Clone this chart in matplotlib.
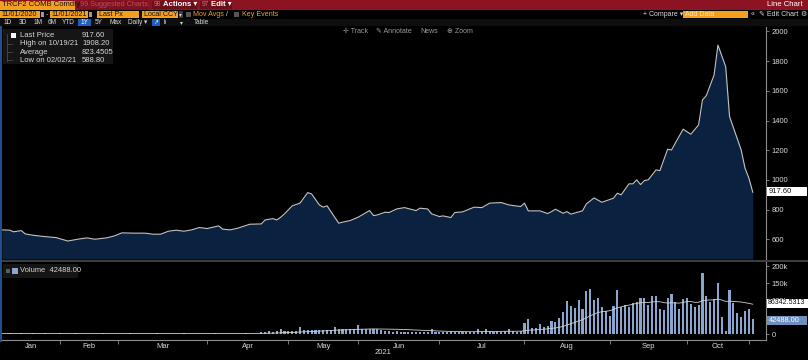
import numpy as np
import pandas as pd
import matplotlib
matplotlib.use("Agg")
import matplotlib.pyplot as plt
from matplotlib.patches import Rectangle

plt.rcParams['font.family'] = ['Liberation Sans', 'DejaVu Sans']

# price series (trading-day index, last price)
price_day = [0, 2, 3, 5, 6, 8, 11, 14, 17, 20, 22, 24, 27, 29, 31, 34, 37, 39, 41, 43,
             45, 47, 49, 51, 53, 56, 57, 59, 61, 64, 67, 68, 70, 71, 72, 73, 75, 77, 79, 80,
             82, 83, 84, 87, 88, 90, 92, 95, 96, 97, 99, 100, 102, 104, 107, 108, 110, 111, 113, 114,
             116, 117, 119, 122, 124, 126, 129, 131, 134, 135, 136, 139, 141, 142, 143, 145, 146, 147, 149, 150,
             151, 153, 155, 158, 159, 160, 162, 163, 164, 165, 166, 167, 169, 170, 172, 173, 176, 178, 180, 181,
             182, 184, 185, 187, 188, 191, 192, 193, 194]
price = [664, 662, 651, 659, 637, 628, 619, 612, 589, 603, 610, 601, 610, 623, 644, 642, 642, 635, 635, 655,
         662, 655, 664, 680, 673, 691, 669, 664, 676, 702, 704, 731, 740, 731, 749, 772, 826, 844, 915, 906,
         832, 817, 826, 709, 716, 727, 749, 794, 760, 765, 783, 781, 805, 814, 794, 810, 805, 772, 754, 758,
         747, 781, 785, 817, 814, 844, 848, 832, 821, 844, 792, 792, 774, 787, 803, 776, 787, 770, 785, 792,
         839, 879, 850, 877, 911, 900, 974, 974, 1001, 969, 996, 1001, 1068, 1063, 1207, 1202, 1342, 1308, 1371, 1539,
         1568, 1707, 1908.2, 1763, 1427, 1202, 1079, 1012, 917.6]

# daily volume in thousands, one value per trading day 0..194
volume_k = (
    [1.5, 1.4, 1.6, 1.5, 1.3, 1.6, 1.4, 1.5, 1.7, 1.4, 1.5, 1.6, 1.3, 1.5, 1.4, 1.6]
    + [1.2, 1.0, 1.4, 3.5, 1.1, 1.3, 1.2, 1.0, 1.5, 1.2, 3.0, 1.1, 1.3, 1.0, 1.2, 1.4, 1.1,
       3.2, 1.2, 1.0, 1.3, 1.5, 1.2, 1.1, 3.0, 1.3, 1.0, 1.2, 1.4, 1.1, 1.2, 2.8, 1.0, 1.3,
       1.2, 1.1, 1.5, 1.2, 1.0, 3.1, 1.3, 1.2, 1.1, 1.4, 1.0, 1.2, 1.3, 3.3, 1.1, 1.2, 1.5]
    + [6, 7, 8, 7, 9, 14, 8, 9, 8, 10, 20, 12, 11, 12, 13, 11, 12, 13, 12, 22, 15, 16, 14,
       15, 16, 26, 15, 14, 16, 15, 14, 12, 8]
    + [8, 7, 8, 6, 6, 5, 6, 6, 5, 6, 7, 15, 6, 5, 6, 7, 10, 6, 5, 6, 7, 6, 6, 14, 7, 14,
       8, 7, 8, 7, 8, 14, 8, 7, 9]
    + [33, 43, 17, 17, 28, 22, 25, 38, 36, 46, 66, 97, 82, 77, 100, 74, 126, 132, 100, 105,
       80, 68, 53, 82, 129, 80, 85, 80, 90, 95, 105, 107, 85, 113, 113, 73, 71, 105, 117, 95,
       73, 103, 105, 88, 80, 86, 178, 113, 95, 103, 149, 51, 8, 129, 90, 63, 51, 68, 75, 44]
)

month_names = ['Jan', 'Feb', 'Mar', 'Apr', 'May', 'Jun', 'Jul', 'Aug', 'Sep', 'Oct']
month_bounds = [0, 15, 30, 53, 74, 92, 113, 135, 157, 177, 193]

price_ticks = [600, 800, 1000, 1200, 1400, 1600, 1800, 2000]
vol_ticks = [0, 50000, 100000, 150000, 200000]
# 50k sits under the volume flag in the original, so it is left blank
vol_tick_labels = ['0', '', '100k', '150k', '200k']

assert len(price_day) == len(price)

vol = np.array(volume_k) * 1000
vol_days = np.arange(len(vol))
vol_ma = pd.Series(vol).rolling(20, min_periods=1).mean()

BG = '#000000'
NAVY = '#0b2140'
LINE = '#c4c4c4'
BAR = '#8aa6cf'
GRAY = '#8c8c8c'
TXT = '#d8d8d8'
ORANGE = '#f2a01e'
RED = '#8c1422'

W, H = 808, 360
fig = plt.figure(figsize=(W / 100, H / 100), dpi=100, facecolor=BG)

px_per_day = 3.87
x_right = 766


def frac(x0, y0, x1, y1):
    return [x0 / W, 1 - y1 / H, (x1 - x0) / W, (y1 - y0) / H]


# price panel
ax = fig.add_axes(frac(2, 27, x_right, 259))
ax.set_facecolor(BG)
y_top, y_bot = 2030, 468
ax.fill_between(price_day, price, y_bot, color=NAVY, lw=0)
ax.plot(price_day, price, color=LINE, lw=0.8)
ax.set_xlim(0, (x_right - 2) / px_per_day)
ax.set_ylim(y_bot, y_top)
ax.yaxis.tick_right()
ax.set_yticks(price_ticks)
ax.set_yticklabels([str(t) for t in price_ticks])
ax.tick_params(axis='y', colors=GRAY, labelcolor=TXT, labelsize=5.5, length=2.5, width=0.6, pad=1.5)
ax.set_xticks([])
for s in ['top', 'left', 'bottom']:
    ax.spines[s].set_visible(False)
ax.spines['right'].set_color(GRAY)
ax.spines['right'].set_linewidth(0.8)

# volume panel
av = fig.add_axes(frac(2, 262, x_right, 340))
av.set_facecolor(BG)
av.bar(vol_days, vol, width=0.55, color=BAR, lw=0)
av.plot(vol_days, vol_ma, color='#d0d0d0', lw=0.6)
av.set_xlim(0, (x_right - 2) / px_per_day)
av.set_ylim(-17600, 211800)
av.yaxis.tick_right()
av.set_yticks(vol_ticks)
av.set_yticklabels(vol_tick_labels)
av.tick_params(axis='y', colors=GRAY, labelcolor=TXT, labelsize=5.5, length=2.5, width=0.6, pad=1.5)
av.set_xticks(month_bounds[1:])
av.set_xticklabels([])
mids = [(a + b) / 2 for a, b in zip(month_bounds[:-1], month_bounds[1:])]
av.set_xticks(mids, minor=True)
av.set_xticklabels(month_names, minor=True)
av.tick_params(axis='x', which='major', colors=GRAY, length=3, width=0.6)
av.tick_params(axis='x', which='minor', length=0, labelcolor=TXT, labelsize=5.5, pad=2)
for s in ['top', 'left']:
    av.spines[s].set_visible(False)
for s in ['right', 'bottom']:
    av.spines[s].set_color(GRAY)
    av.spines[s].set_linewidth(0.8)

# overlay for header, legends and value flags
ov = fig.add_axes([0, 0, 1, 1], zorder=10)
ov.set_xlim(0, W)
ov.set_ylim(H, 0)
ov.axis('off')
ov.patch.set_alpha(0)


def box(x, y, w, h, fc, ec='none', lw=0.5):
    ov.add_patch(Rectangle((x, y), w, h, facecolor=fc, edgecolor=ec, lw=lw))


def txt(x, y, s, size=5, color=TXT, **kw):
    ov.text(x, y, s, fontsize=size, color=color, va='center', **kw)


# title bar
box(0, 0, W, 9.5, RED)
box(0, 0.5, 75, 9, ORANGE)
txt(1.5, 5, 'TRCF2 COMB Comdty', size=5.5, color='#111111')
box(78, 0.8, 69, 8.4, '#7e1220', ec='#6a0e1a')
txt(80, 5, '99 Suggested Charts', size=5.2, color='#b8505e')
box(152, 0.8, 45, 8.4, '#6c0f1b')
txt(154, 5, '98', size=4.8, color='#c07080')
txt(163, 5, 'Actions \u25be', size=5.6, color='white', fontweight='bold')
box(200, 0.8, 32, 8.4, '#6c0f1b')
txt(202, 5, '97', size=4.8, color='#c07080')
txt(211, 5, 'Edit \u25be', size=5.6, color='white', fontweight='bold')
txt(803, 5, 'Line Chart', size=5.6, color='white', ha='right')

# second row
box(0, 10.5, 40, 7.5, ORANGE)
txt(1.5, 14.3, '11/01/2020', size=5.1, color='#111111')
box(40.5, 11.5, 3.5, 5.5, '#9a9a9a')
txt(46, 14.3, '-', size=5, color=TXT)
box(50, 10.5, 38, 7.5, ORANGE)
txt(51.5, 14.3, '11/01/2021', size=5.1, color='#111111')
box(88.5, 11.5, 3.5, 5.5, '#9a9a9a')
box(97, 10.5, 42, 7.5, ORANGE)
txt(99, 14.3, 'Last Px', size=5.1, color='#111111')
box(142, 10.5, 36, 7.5, ORANGE)
txt(144, 14.3, 'Local CCY', size=5.1, color='#111111')
box(178.5, 10.5, 4.5, 7.5, '#3a3a3a')
txt(179, 14.3, '\u25be', size=4, color=TXT)
box(186, 12, 4.5, 4.5, '#555555')
txt(193, 14.3, 'Mov Avgs', size=5.1, color=ORANGE)
txt(225.5, 14.3, '/', size=5, color=TXT)
box(234, 12, 4.5, 4.5, '#555555')
txt(242, 14.3, 'Key Events', size=5.1, color=ORANGE)
txt(643, 14.3, '+ Compare \u25be', size=5, color=TXT)
box(683, 10.5, 65, 7.5, ORANGE)
txt(685, 14.3, 'Add Data', size=5, color='#ffe6a8')
txt(751, 14.3, '\u00ab', size=5, color=TXT)
txt(759, 14.3, '\u270e Edit Chart', size=5, color=TXT)
txt(800, 14.3, '\u2699', size=5, color=TXT)

# third row
box(0, 18.5, W, 7.5, '#0e0e0e')
for label, xpos in [('1D', 4), ('3D', 19), ('1M', 34), ('6M', 48), ('YTD', 62),
                    ('5Y', 95), ('Max', 110), ('Daily \u25be', 128)]:
    txt(xpos, 22.3, label, size=4.7, color=TXT)
box(78, 19, 13, 6.5, '#1d5fc0')
txt(81, 22.3, '1Y', size=4.7, color='white')
box(152, 19, 8, 6.5, '#1d5fc0')
txt(153, 22.3, '\u2197', size=4.2, color='white')
txt(164, 22.3, 'l\u0131', size=4.7, color=TXT)
txt(180, 22.3, '\u25be', size=4.2, color=TXT)
txt(194, 22.3, 'Table', size=4.7, color=TXT)

# chart tools
for label, xpos in [('\u271b Track', 343), ('\u270e Annotate', 376), ('News', 420), ('\u2295 Zoom', 447)]:
    txt(xpos, 31.5, label, size=5, color='#9a9a9a')

# left accent line
box(0, 26, 2, 316, '#1e4f8f')

# price legend
box(3, 28.5, 110, 35.5, '#151515')
box(11, 32.5, 5, 5, 'white')
rows = [('Last Price', '917.60', 35.3), ('High on 10/19/21', '1908.20', 43.6),
        ('Average', '823.4505', 52), ('Low on 02/02/21', '588.80', 60.3)]
for name, val, yy in rows:
    txt(20, yy, name, size=5.5, color=TXT)
    txt(82, yy, val, size=5.5, color=TXT)
ov.plot([7, 7], [34, 61], color='#555555', lw=0.5)
for yy in [43.6, 52, 60.3]:
    ov.plot([7, 12], [yy, yy], color='#555555', lw=0.5)

# panel separator
ov.plot([2, W], [260.5, 260.5], color='#4a4a4a', lw=1.2)

# volume legend
box(3, 264, 75, 14, '#151515')
box(6, 268.5, 4, 4, '#5a5a5a')
box(12, 267.5, 6, 6, BAR)
txt(20, 270.5, 'Volume  42488.00', size=5.4, color=TXT)

# value flags on right axis
box(767, 187, 40, 9, 'white')
txt(769, 191.7, '917.60', size=5.5, color='#111111')
box(767, 298.5, 41, 9, 'white')
txt(768, 303, '86342.5313', size=5, color='#111111')
box(767, 315.5, 40, 9, '#6f8fbd')
txt(769, 320, '42488.00', size=5.3, color='white')

# year label
txt(383, 353, '2021', size=5.5, color=TXT, ha='center')

fig.savefig('out.png', dpi=100, facecolor=BG)
